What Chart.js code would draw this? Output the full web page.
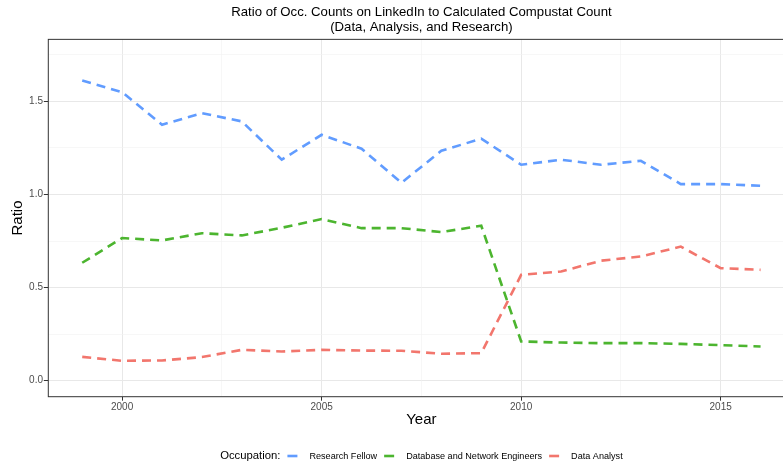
<!DOCTYPE html>
<html>
<head>
<meta charset="utf-8">
<script src="https://cdn.jsdelivr.net/npm/chart.js@4.4.1/dist/chart.umd.min.js"></script>
<style>
    body { margin: 0; background: #fff; }
    .wrap { width: 783px; height: 465px; overflow: hidden; }
</style>
</head>
<body>
<div class="wrap">
    <canvas id="chart" width="800" height="465"></canvas>
</div>
<script>
    // Данные
    const years = [1999, 2000, 2001, 2002, 2003, 2004, 2005, 2006, 2007, 2008, 2009, 2010, 2011, 2012, 2013, 2014, 2015, 2016];
    const researchFellow = [1.613, 1.55, 1.375, 1.437, 1.393, 1.187, 1.321, 1.246, 1.063, 1.235, 1.30, 1.16, 1.187, 1.16, 1.181, 1.056, 1.056, 1.047];
    const databaseEngineers = [0.633, 0.766, 0.753, 0.792, 0.78, 0.821, 0.868, 0.819, 0.819, 0.798, 0.832, 0.21, 0.204, 0.201, 0.201, 0.197, 0.19, 0.183];
    const dataAnalyst = [0.127, 0.106, 0.108, 0.126, 0.165, 0.156, 0.165, 0.161, 0.16, 0.144, 0.147, 0.568, 0.586, 0.644, 0.667, 0.72, 0.604, 0.595];

    const seriesNames = ['Research Fellow', 'Database and Network Engineers', 'Data Analyst'];
    const seriesValues = [researchFellow, databaseEngineers, dataAnalyst];
    const seriesColors = ['#619cff', '#4cb52f', '#f2766d'];

    const xTicks = [2000, 2002.5, 2005, 2007.5, 2010, 2012.5, 2015];
    const yTicks = [0, 0.25, 0.5, 0.75, 1, 1.25, 1.5, 1.75];

    const FONT = '"Liberation Sans", Arial, sans-serif';

    const isMajorX = v => v % 5 === 0;
    const isMajorY = v => Math.abs(v * 2 - Math.round(v * 2)) < 1e-9;

    // Рамка панели
    const panelBorder = {
        id: 'panelBorder',
        afterDraw(chart) {
            const { ctx, chartArea: a } = chart;
            ctx.save();
            ctx.strokeStyle = '#333333';
            ctx.lineWidth = 1;
            ctx.strokeRect(a.left, a.top, a.right - a.left, a.bottom - a.top);
            ctx.restore();
        }
    };

    // Легенда в одну строку: "Occupation:" + элементы
    const inlineLegend = {
        id: 'inlineLegend',
        afterDraw(chart) {
            const { ctx, chartArea: a } = chart;
            const titleFont = '11.3px ' + FONT;
            const itemFont = '9.1px ' + FONT;
            const swatch = 10, gapTitle = 7, gapLabel = 12, gapItem = 7;

            ctx.save();
            ctx.font = titleFont;
            const titleW = ctx.measureText('Occupation:').width;
            ctx.font = itemFont;
            const items = chart.data.datasets.map(ds => ({
                label: ds.label, color: ds.borderColor, w: ctx.measureText(ds.label).width
            }));
            let total = titleW + gapTitle;
            items.forEach((it, i) => {
                total += swatch + gapLabel + it.w + (i < items.length - 1 ? gapItem : 0);
            });

            let x = (a.left + a.right) / 2 - total / 2;
            const y = 456;
            ctx.textBaseline = 'middle';
            ctx.textAlign = 'left';
            ctx.fillStyle = '#000';
            ctx.font = titleFont;
            ctx.fillText('Occupation:', x, y);
            x += titleW + gapTitle;

            ctx.font = itemFont;
            items.forEach(it => {
                ctx.strokeStyle = it.color;
                ctx.lineWidth = 2.6;
                ctx.beginPath();
                ctx.moveTo(x, y);
                ctx.lineTo(x + swatch, y);
                ctx.stroke();
                x += swatch + gapLabel;
                ctx.fillStyle = '#000';
                ctx.fillText(it.label, x, y);
                x += it.w + gapItem;
            });
            ctx.restore();
        }
    };

    const datasets = seriesNames.map((name, i) => ({
        label: name,
        data: years.map((yr, j) => ({ x: yr, y: seriesValues[i][j] })),
        borderColor: seriesColors[i],
        backgroundColor: seriesColors[i],
        borderWidth: 2.6,
        borderDash: [9, 6],
        pointRadius: 0,
        tension: 0,
        fill: false
    }));

    new Chart(document.getElementById('chart'), {
        type: 'line',
        data: { datasets: datasets },
        plugins: [panelBorder, inlineLegend],
        options: {
            responsive: false,
            animation: false,
            layout: { padding: { left: 0, right: 5.5, top: 0, bottom: 32.8 } },
            plugins: {
                legend: { display: false },
                tooltip: { enabled: false },
                title: {
                    display: true,
                    fullSize: false,
                    text: ['Ratio of Occ. Counts on LinkedIn to Calculated Compustat Count', '(Data, Analysis, and Research)'],
                    color: '#000',
                    font: { family: FONT, size: 13.2, weight: 'normal', lineHeight: 1.15 },
                    padding: { top: 5, bottom: 4 }
                }
            },
            scales: {
                x: {
                    type: 'linear',
                    min: 1998.15,
                    max: 2016.85,
                    afterBuildTicks: axis => { axis.ticks = xTicks.map(v => ({ value: v })); },
                    afterFit: axis => { axis.height = 35.5; },
                    ticks: {
                        autoSkip: false,
                        maxRotation: 0,
                        padding: 0.5,
                        color: '#4d4d4d',
                        font: { family: FONT, size: 10 },
                        callback: v => isMajorX(v) ? String(v) : ''
                    },
                    grid: {
                        color: ctx => isMajorX(ctx.tick.value) ? '#e8e8e8' : '#f1f1f1',
                        lineWidth: ctx => isMajorX(ctx.tick.value) ? 1 : 0.6,
                        tickLength: 4,
                        tickColor: ctx => isMajorX(ctx.tick.value) ? '#333333' : 'rgba(0,0,0,0)',
                        tickWidth: 1
                    },
                    border: { display: false },
                    title: {
                        display: true,
                        text: 'Year',
                        color: '#000',
                        font: { family: FONT, size: 15, lineHeight: 1.2 },
                        padding: { top: 0, bottom: 3.7 }
                    }
                },
                y: {
                    min: -0.087,
                    max: 1.834,
                    afterBuildTicks: axis => { axis.ticks = yTicks.map(v => ({ value: v })); },
                    afterFit: axis => { axis.width = 48.3; },
                    ticks: {
                        autoSkip: false,
                        padding: 0.8,
                        color: '#4d4d4d',
                        font: { family: FONT, size: 10 },
                        callback: v => isMajorY(v) ? v.toFixed(1) : ''
                    },
                    grid: {
                        color: ctx => isMajorY(ctx.tick.value) ? '#e8e8e8' : '#f1f1f1',
                        lineWidth: ctx => isMajorY(ctx.tick.value) ? 1 : 0.6,
                        tickLength: 4.5,
                        tickColor: ctx => isMajorY(ctx.tick.value) ? '#333333' : 'rgba(0,0,0,0)',
                        tickWidth: 1
                    },
                    border: { display: false },
                    title: {
                        display: true,
                        text: 'Ratio',
                        color: '#000',
                        font: { family: FONT, size: 15, lineHeight: 1.2 },
                        padding: { top: 8.5, bottom: 0 }
                    }
                }
            }
        }
    });
</script>
</body>
</html>
